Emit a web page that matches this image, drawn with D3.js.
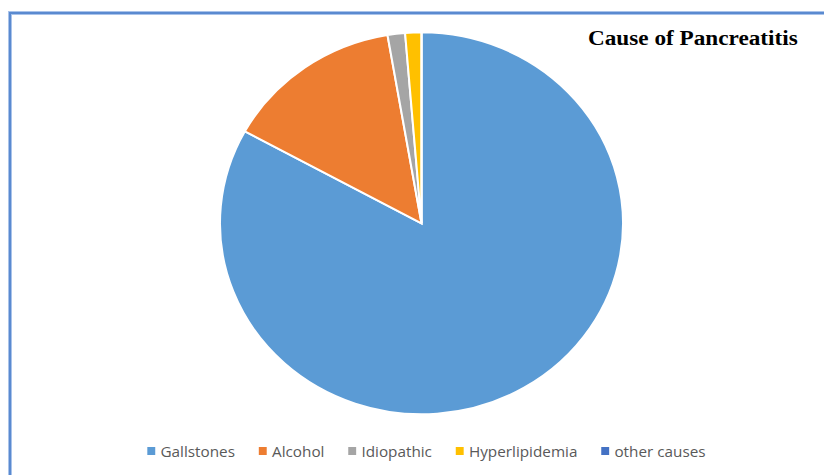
<!DOCTYPE html>
<html>
<head>
<meta charset="utf-8">
<script src="https://cdn.jsdelivr.net/npm/d3@7"></script>
<style>
  html, body { margin: 0; padding: 0; background: #fff; }
  svg { display: block; }
</style>
</head>
<body>
<svg id="chart" width="824" height="475"></svg>
<script>
// Causes of pancreatitis, share of cases (%)
const categories = ["Gallstones", "Alcohol", "Idiopathic", "Hyperlipidemia", "other causes"];
const values = [83, 14.3, 1.4, 1.3, 0];
const colors = ["#5B9BD5", "#ED7D31", "#A5A5A5", "#FFC000", "#4472C4"];
const title = "Cause of Pancreatitis";

const W = 824, H = 475;
const sx = 1.055; // horizontal stretch of the whole drawing
const svg = d3.select("#chart");

// frame: blue top and left edges of the chart area
svg.append("path")
  .attr("d", `M10,${H} L10,13 L${W},13`)
  .attr("fill", "none")
  .attr("stroke", "#a9c3ea")
  .attr("stroke-width", 4);
svg.append("path")
  .attr("d", `M10,${H} L10,13 L${W},13`)
  .attr("fill", "none")
  .attr("stroke", "#5a8ad0")
  .attr("stroke-width", 2);

// pie
const cx = 421.5, cy = 223.3, r = 191;
const pie = d3.pie().sort(null).value(d => d.value);
const arc = d3.arc().innerRadius(0).outerRadius(r);
const data = categories.map((c, i) => ({ name: c, value: values[i], color: colors[i] }));

const g = svg.append("g").attr("transform", `translate(${cx},${cy}) scale(${sx},1)`);
g.selectAll("path")
  .data(pie(data))
  .join("path")
  .attr("d", arc)
  .attr("fill", d => d.data.color)
  .attr("stroke", "#fff")
  .attr("stroke-width", 2)
  .attr("vector-effect", "non-scaling-stroke");

// title
svg.append("text")
  .attr("transform", `translate(588,45) scale(${sx},1)`)
  .attr("font-family", "'Liberation Serif', 'Times New Roman', serif")
  .attr("font-weight", "bold")
  .attr("font-size", 22)
  .attr("fill", "#000")
  .text(title);

// legend
const legend = svg.append("g");
const items = legend.selectAll("g")
  .data(data)
  .join("g");
items.append("rect")
  .attr("width", 7.5).attr("height", 8)
  .attr("y", 447)
  .attr("fill", d => d.color);
items.append("text")
  .attr("y", 457)
  .attr("font-family", "'Open Sans', 'Noto Sans', sans-serif")
  .attr("font-size", 14.5)
  .attr("fill", "#595959")
  .text(d => d.name);

let x = 0;
items.each(function () {
  const w = d3.select(this).select("text").node().getComputedTextLength();
  d3.select(this).select("text").attr("x", x + 12.5);
  d3.select(this).select("rect").attr("x", x);
  x += 12.5 + w + 22.5;
});
const total = (x - 22.5) * sx;
legend.attr("transform", `translate(${426.5 - total / 2},0) scale(${sx},1)`);
</script>
</body>
</html>
